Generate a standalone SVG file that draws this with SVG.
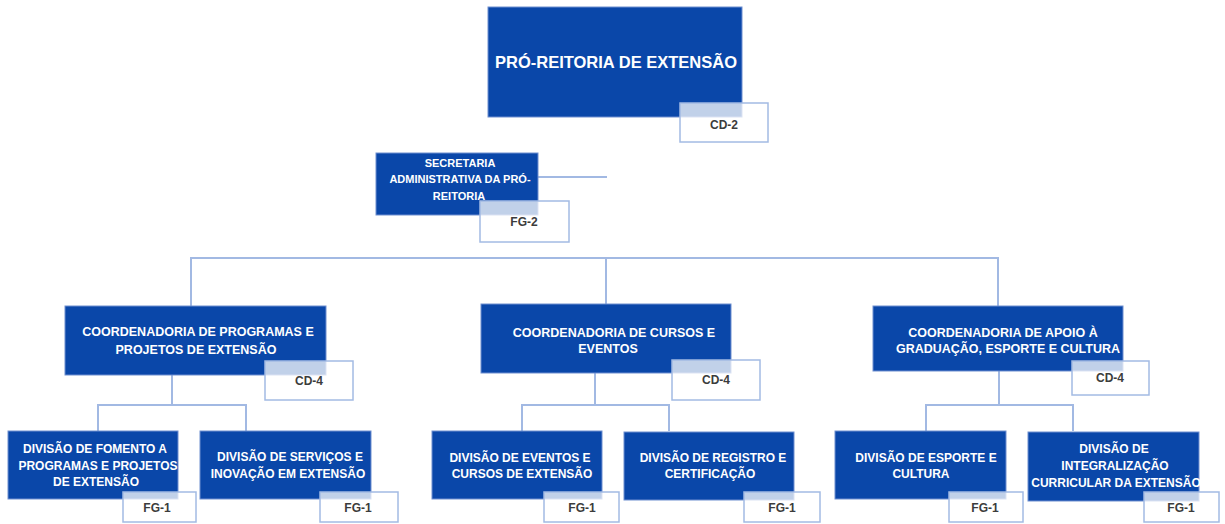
<svg xmlns="http://www.w3.org/2000/svg" width="1225" height="524" viewBox="0 0 1225 524">
<style>
.box{fill:#0a47a9;stroke:#6f8fd0;stroke-width:1}
.tag{fill:#ffffff;fill-opacity:0.75;stroke:#a3bbe3;stroke-width:1.5}
.t{font-family:"Liberation Sans",Arial,sans-serif;font-weight:bold;fill:#ffffff;text-anchor:middle}
.tt{font-family:"Liberation Sans",Arial,sans-serif;font-weight:bold;fill:#3c3c3c;text-anchor:middle;font-size:12px}
.c{fill:none;stroke:#a2b9e3;stroke-width:2}
</style>
<rect width="1225" height="524" fill="#ffffff"/>
<g id="connectors">
<path class="c" d="M538 177H607"/>
<path class="c" d="M191 306V258H998V306M606 258V304"/>
<path class="c" d="M172 375V405M98 431V405H246V431"/>
<path class="c" d="M595 373V405M522 431V405H669V431"/>
<path class="c" d="M999 371V405M926 431V405H1073V431"/>
</g>
<g id="pro-reitoria">
<rect class="box" x="488" y="7" width="254" height="110"/>
<text class="t" x="616" y="68" font-size="16.5">PRÓ-REITORIA DE EXTENSÃO</text>
<rect class="tag" x="680" y="103" width="88" height="39"/>
<text class="tt" x="724" y="129" font-size="13">CD-2</text>
</g>
<g id="secretaria">
<rect class="box" x="376" y="153" width="162" height="62"/>
<text class="t" font-size="11"><tspan x="460" y="167">SECRETARIA</tspan><tspan x="460" y="183">ADMINISTRATIVA DA PRÓ-</tspan><tspan x="459" y="200">REITORIA</tspan></text>
<rect class="tag" x="480" y="201" width="89" height="41"/>
<text class="tt" x="524" y="226">FG-2</text>
</g>
<g id="coord-programas">
<rect class="box" x="65" y="306" width="261" height="69"/>
<text class="t" font-size="12.5"><tspan x="198" y="336">COORDENADORIA DE PROGRAMAS E</tspan><tspan x="196" y="354">PROJETOS DE EXTENSÃO</tspan></text>
<rect class="tag" x="265" y="361" width="88" height="39"/>
<text class="tt" x="309" y="385">CD-4</text>
</g>
<g id="coord-cursos">
<rect class="box" x="481" y="304" width="250" height="69"/>
<text class="t" font-size="12.5"><tspan x="614" y="337">COORDENADORIA DE CURSOS E</tspan><tspan x="608" y="353">EVENTOS</tspan></text>
<rect class="tag" x="672" y="360" width="88" height="40"/>
<text class="tt" x="716" y="384">CD-4</text>
</g>
<g id="coord-apoio">
<rect class="box" x="873" y="306" width="250" height="65"/>
<text class="t" font-size="12.5"><tspan x="1003" y="337">COORDENADORIA DE APOIO À</tspan><tspan x="1008" y="353">GRADUAÇÃO, ESPORTE E CULTURA</tspan></text>
<rect class="tag" x="1072" y="361" width="77" height="34"/>
<text class="tt" x="1110" y="382" font-size="11">CD-4</text>
</g>
<g id="div-fomento">
<rect class="box" x="8" y="431" width="170" height="68"/>
<text class="t" font-size="12"><tspan x="95" y="453">DIVISÃO DE FOMENTO A</tspan><tspan x="98" y="470">PROGRAMAS E PROJETOS</tspan><tspan x="96" y="486">DE EXTENSÃO</tspan></text>
<rect class="tag" x="123" y="492" width="73" height="30"/>
<text class="tt" x="157" y="512">FG-1</text>
</g>
<g id="div-servicos">
<rect class="box" x="200" y="431" width="171" height="68"/>
<text class="t" font-size="12"><tspan x="290" y="461">DIVISÃO DE SERVIÇOS E</tspan><tspan x="288" y="478">INOVAÇÃO EM EXTENSÃO</tspan></text>
<rect class="tag" x="320" y="492" width="78" height="30"/>
<text class="tt" x="358" y="512">FG-1</text>
</g>
<g id="div-eventos">
<rect class="box" x="432" y="431" width="170" height="68"/>
<text class="t" font-size="12"><tspan x="520" y="462">DIVISÃO DE EVENTOS E</tspan><tspan x="522" y="478">CURSOS DE EXTENSÃO</tspan></text>
<rect class="tag" x="544" y="492" width="75" height="30"/>
<text class="tt" x="582" y="512">FG-1</text>
</g>
<g id="div-registro">
<rect class="box" x="624" y="432" width="170" height="68"/>
<text class="t" font-size="12"><tspan x="713" y="462">DIVISÃO DE REGISTRO E</tspan><tspan x="710" y="478">CERTIFICAÇÃO</tspan></text>
<rect class="tag" x="744" y="492" width="76" height="30"/>
<text class="tt" x="782" y="512">FG-1</text>
</g>
<g id="div-esporte">
<rect class="box" x="835" y="431" width="171" height="68"/>
<text class="t" font-size="12"><tspan x="926" y="462">DIVISÃO DE ESPORTE E</tspan><tspan x="921" y="478">CULTURA</tspan></text>
<rect class="tag" x="949" y="492" width="74" height="30"/>
<text class="tt" x="985" y="512">FG-1</text>
</g>
<g id="div-integralizacao">
<rect class="box" x="1028" y="432" width="171" height="69"/>
<text class="t" font-size="12"><tspan x="1114" y="453">DIVISÃO DE</tspan><tspan x="1115" y="470">INTEGRALIZAÇÃO</tspan><tspan x="1116" y="487">CURRICULAR DA EXTENSÃO</tspan></text>
<rect class="tag" x="1144" y="492" width="75" height="30"/>
<text class="tt" x="1181" y="512">FG-1</text>
</g>
</svg>
